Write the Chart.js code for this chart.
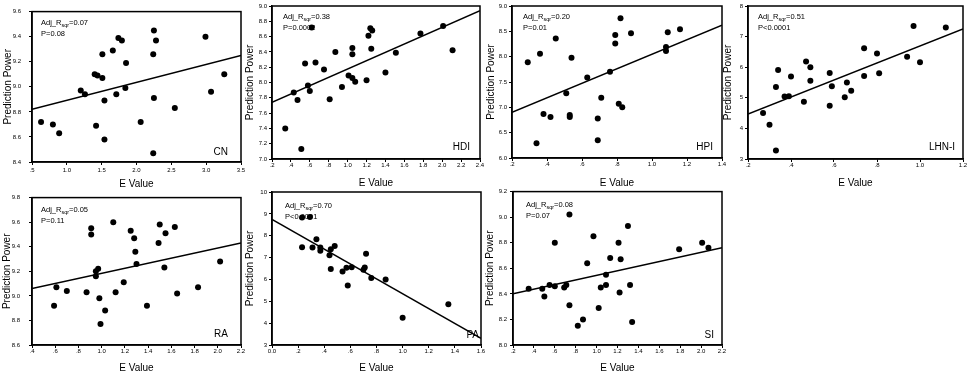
<!DOCTYPE html>
<html>
<head>
<meta charset="utf-8">
<script src="https://cdn.jsdelivr.net/npm/chart.js@4.4.1/dist/chart.umd.min.js"></script>
<style>
  html, body { margin: 0; padding: 0; background: #fff; overflow: hidden; }
  #wrap { position: relative; width: 969px; height: 376px; }
  #wrap canvas { position: absolute; }
</style>
</head>
<body>
<div id="wrap"></div>
<script>
// values
const cnX = [0.63, 0.80, 0.89, 1.20, 1.26, 1.40, 1.44, 1.51, 1.51, 1.42, 1.54, 1.54, 1.66, 1.71, 1.74, 1.79, 1.85, 1.84, 2.06, 2.25, 2.28, 2.24, 2.25, 2.24, 2.55, 2.99, 3.07, 3.26];
const cnY = [8.72, 8.70, 8.63, 8.97, 8.94, 9.10, 9.09, 9.26, 9.07, 8.69, 8.89, 8.58, 9.29, 8.94, 9.39, 9.37, 9.19, 8.99, 8.72, 9.45, 9.37, 9.26, 8.91, 8.47, 8.83, 9.40, 8.96, 9.10];

const hdiX = [0.34, 0.51, 0.43, 0.47, 0.55, 0.58, 0.60, 0.62, 0.66, 0.75, 0.81, 0.87, 0.94, 1.01, 1.05, 1.05, 1.05, 1.08, 1.20, 1.22, 1.24, 1.26, 1.25, 1.40, 1.51, 1.77, 2.01, 2.11];
const hdiY = [7.40, 7.13, 7.87, 7.77, 8.25, 7.96, 7.89, 8.72, 8.26, 8.17, 7.78, 8.40, 7.94, 8.09, 8.45, 8.37, 8.06, 8.01, 8.03, 8.61, 8.71, 8.68, 8.44, 8.13, 8.39, 8.64, 8.74, 8.42];

const hpiX = [0.29, 0.34, 0.36, 0.38, 0.42, 0.45, 0.51, 0.53, 0.53, 0.54, 0.63, 0.69, 0.69, 0.71, 0.76, 0.79, 0.79, 0.81, 0.83, 0.82, 0.88, 1.08, 1.08, 1.09, 1.16];
const hpiY = [7.89, 6.29, 8.06, 6.87, 6.81, 8.36, 7.28, 6.81, 6.85, 7.98, 7.59, 6.35, 6.78, 7.19, 7.70, 8.43, 8.26, 7.07, 7.00, 8.76, 8.46, 8.19, 8.11, 8.48, 8.54];

const lhnX = [0.27, 0.30, 0.33, 0.33, 0.34, 0.37, 0.39, 0.40, 0.46, 0.47, 0.49, 0.49, 0.58, 0.58, 0.59, 0.65, 0.66, 0.68, 0.74, 0.74, 0.80, 0.81, 0.94, 0.97, 1.00, 1.12];
const lhnY = [4.50, 4.12, 3.28, 5.35, 5.91, 5.04, 5.05, 5.70, 4.87, 6.19, 6.00, 5.56, 5.81, 4.74, 5.38, 5.02, 5.50, 5.23, 6.62, 5.71, 6.45, 5.80, 6.34, 7.35, 6.16, 7.30];

const raX = [0.59, 0.61, 0.70, 0.87, 0.91, 0.91, 0.95, 0.95, 0.97, 0.98, 0.99, 1.03, 1.10, 1.12, 1.19, 1.25, 1.28, 1.29, 1.30, 1.39, 1.49, 1.50, 1.54, 1.55, 1.63, 1.65, 1.83, 2.02];
const raY = [8.92, 9.07, 9.04, 9.03, 9.55, 9.50, 9.20, 9.16, 9.22, 8.98, 8.77, 8.88, 9.60, 9.03, 9.11, 9.53, 9.47, 9.36, 9.26, 8.92, 9.43, 9.58, 9.23, 9.51, 9.56, 9.02, 9.07, 9.28];

const paX = [0.23, 0.29, 0.23, 0.31, 0.34, 0.37, 0.37, 0.44, 0.45, 0.48, 0.45, 0.54, 0.57, 0.58, 0.61, 0.70, 0.71, 0.72, 0.76, 0.87, 1.00, 1.35];
const paY = [8.83, 8.86, 7.47, 7.46, 7.84, 7.46, 7.31, 7.11, 7.38, 7.53, 6.48, 6.36, 6.53, 5.72, 6.56, 6.44, 6.55, 7.17, 6.07, 6.00, 4.25, 4.86];

const siX = [0.35, 0.48, 0.50, 0.55, 0.60, 0.60, 0.69, 0.71, 0.74, 0.74, 0.82, 0.87, 0.91, 0.97, 1.02, 1.04, 1.09, 1.09, 1.13, 1.21, 1.22, 1.23, 1.30, 1.32, 1.34, 1.79, 2.01, 2.07];
const siY = [8.44, 8.44, 8.38, 8.47, 8.46, 8.80, 8.45, 8.47, 8.31, 9.02, 8.15, 8.20, 8.64, 8.85, 8.29, 8.45, 8.55, 8.47, 8.68, 8.80, 8.41, 8.67, 8.93, 8.47, 8.18, 8.75, 8.80, 8.76];

// fitted regression lines (ends)
const cnFitX = [0.5, 3.5],  cnFitY = [8.82, 9.25];
const hdiFitX = [0.2, 2.4], hdiFitY = [7.74, 8.94];
const hpiFitX = [0.2, 1.4], hpiFitY = [6.90, 8.62];
const lhnFitX = [0.2, 1.2], lhnFitY = [4.47, 7.25];
const raFitX = [0.4, 2.2],  raFitY = [9.06, 9.43];
const paFitX = [0.0, 1.6],  paFitY = [8.75, 3.30];
const siFitX = [0.2, 2.2],  siFitY = [8.40, 8.76];

const panelNames = ['CN', 'HDI', 'HPI', 'LHN-I', 'RA', 'PA', 'SI'];
const adjR2 = ['0.07', '0.38', '0.20', '0.51', '0.05', '0.70', '0.08'];
const pText = ['P=0.08', 'P=0.0002', 'P=0.01', 'P<0.0001', 'P=0.11', 'P<0.0001', 'P=0.07'];

// axis ranges: [min, max, step]
const xAxes = [[0.5, 3.5, 0.5], [0.2, 2.4, 0.2], [0.2, 1.4, 0.2], [0.2, 1.2, 0.2], [0.4, 2.2, 0.2], [0.0, 1.6, 0.2], [0.2, 2.2, 0.2]];
const yAxes = [[8.4, 9.6, 0.2], [7.0, 9.0, 0.2], [6.0, 9.0, 0.5], [3, 8, 1], [8.6, 9.8, 0.2], [3, 10, 1], [8.0, 9.2, 0.2]];
const yDecimals = [1, 1, 1, 0, 1, 0, 1];

const xTitle = 'E Value';
const yTitle = 'Prediction Power';

// layout: plot area [left, top, right, bottom] in page pixels, plus axis box sizes
const areas = [[32, 6, 241, 162], [272, 6, 480, 159], [512, 6, 722, 158], [748, 6, 963, 159],
               [32, 191, 241, 345], [272, 192, 481, 345], [513, 191, 722, 345]];
const yBoxW = [30, 28, 27, 26, 31, 28, 29];
const xBoxH = [28, 30, 31, 30, 29, 29, 29];
const yTickPad = [8, 2, 2, 2, 9, 2, 3];
const xTickPad = [2, 0, 0, 0, 0, 0, 0];
const noteDx = [9, 11, 11, 10, 9, 13, 13];
const noteDy = [11, 11, 11, 11, 12, 14, 13];
const nameDx = [13, 10, 9, 8, 13, 2, 8];
const nameDy = [10, 12, 11, 12, 11, 10, 10];

const FONT = '"Liberation Sans", Arial, Helvetica, sans-serif';

const xData = [cnX, hdiX, hpiX, lhnX, raX, paX, siX];
const yData = [cnY, hdiY, hpiY, lhnY, raY, paY, siY];
const fitX = [cnFitX, hdiFitX, hpiFitX, lhnFitX, raFitX, paFitX, siFitX];
const fitY = [cnFitY, hdiFitY, hpiFitY, lhnFitY, raFitY, paFitY, siFitY];

function fmtX(v) {
    const r = Math.round(v * 10) / 10;
    if (r === 0) return '0.0';
    if (r < 1) return '.' + Math.round(r * 10);
    return r.toFixed(1);
}

// frame + Adj_R_sqr note + panel name
const panelDeco = {
    id: 'panelDeco',
    afterDraw(chart, args, opts) {
        const ctx = chart.ctx;
        const a = chart.chartArea;
        ctx.save();
        ctx.strokeStyle = '#000';
        ctx.lineWidth = 1.5;
        ctx.strokeRect(a.left, a.top, a.right - a.left, a.bottom - a.top);

        ctx.fillStyle = '#000';
        ctx.textBaseline = 'middle';
        ctx.textAlign = 'left';
        let x = a.left + opts.dx;
        const y = a.top + opts.dy;
        ctx.font = '7.5px ' + FONT;
        ctx.fillText('Adj_R', x, y);
        x += ctx.measureText('Adj_R').width;
        ctx.font = '5.5px ' + FONT;
        ctx.fillText('sqr', x, y + 2.5);
        x += ctx.measureText('sqr').width;
        ctx.font = '7.5px ' + FONT;
        ctx.fillText('=' + opts.r2, x, y);
        ctx.fillText(opts.p, a.left + opts.dx, y + 11);

        ctx.font = '10px ' + FONT;
        ctx.textAlign = 'right';
        ctx.fillText(opts.name, a.right - opts.nameDx, a.bottom - opts.nameDy);
        ctx.restore();
    }
};

const wrap = document.getElementById('wrap');

for (let i = 0; i < panelNames.length; i++) {
    const [L, T, R, B] = areas[i];
    const canvas = document.createElement('canvas');
    const w = yBoxW[i] + (R - L) + 10;
    const h = (B - T) + 6 + xBoxH[i];
    canvas.width = w;
    canvas.height = h;
    canvas.style.left = (L - yBoxW[i]) + 'px';
    canvas.style.top = (T - 6) + 'px';
    canvas.style.width = w + 'px';
    canvas.style.height = h + 'px';
    wrap.appendChild(canvas);

    const pts = xData[i].map((x, k) => ({ x: x, y: yData[i][k] }));
    const line = fitX[i].map((x, k) => ({ x: x, y: fitY[i][k] }));
    const [xMin, xMax, xStep] = xAxes[i];
    const [yMin, yMax, yStep] = yAxes[i];

    new Chart(canvas, {
        type: 'scatter',
        data: {
            datasets: [
                {
                    type: 'line',
                    data: line,
                    showLine: true,
                    borderColor: '#000',
                    borderWidth: 1.5,
                    pointRadius: 0,
                    fill: false,
                    tension: 0,
                    order: 2
                },
                {
                    data: pts,
                    pointRadius: 3,
                    pointBackgroundColor: '#000',
                    pointBorderWidth: 0,
                    order: 1
                }
            ]
        },
        options: {
            responsive: false,
            animation: false,
            events: [],
            layout: { padding: { left: 0, right: 10, top: 6, bottom: 0 } },
            plugins: {
                legend: { display: false },
                tooltip: { enabled: false },
                panelDeco: {
                    name: panelNames[i], r2: adjR2[i], p: pText[i],
                    dx: noteDx[i], dy: noteDy[i], nameDx: nameDx[i], nameDy: nameDy[i]
                }
            },
            scales: {
                x: {
                    type: 'linear',
                    position: 'bottom',
                    min: xMin,
                    max: xMax,
                    ticks: {
                        stepSize: xStep,
                        autoSkip: false,
                        maxRotation: 0,
                        padding: xTickPad[i],
                        color: '#000',
                        font: { size: 6, family: FONT },
                        callback: v => fmtX(v)
                    },
                    grid: { drawOnChartArea: false, drawTicks: true, tickLength: 3, color: '#000', lineWidth: 1 },
                    border: { display: true, color: '#000', width: 1.5 },
                    title: { display: true, text: xTitle, color: '#000', font: { size: 10, family: FONT }, padding: 0 },
                    afterFit: s => { s.height = xBoxH[i]; }
                },
                y: {
                    type: 'linear',
                    position: 'left',
                    min: yMin,
                    max: yMax,
                    ticks: {
                        stepSize: yStep,
                        autoSkip: false,
                        padding: yTickPad[i],
                        color: '#000',
                        font: { size: 6, family: FONT },
                        callback: v => v.toFixed(yDecimals[i])
                    },
                    grid: { drawOnChartArea: false, drawTicks: true, tickLength: 3, color: '#000', lineWidth: 1 },
                    border: { display: true, color: '#000', width: 1.5 },
                    title: { display: true, text: yTitle, color: '#000', font: { size: 10, family: FONT }, padding: 0 },
                    afterFit: s => { s.width = yBoxW[i]; }
                }
            }
        },
        plugins: [panelDeco]
    });
}
</script>
</body>
</html>
